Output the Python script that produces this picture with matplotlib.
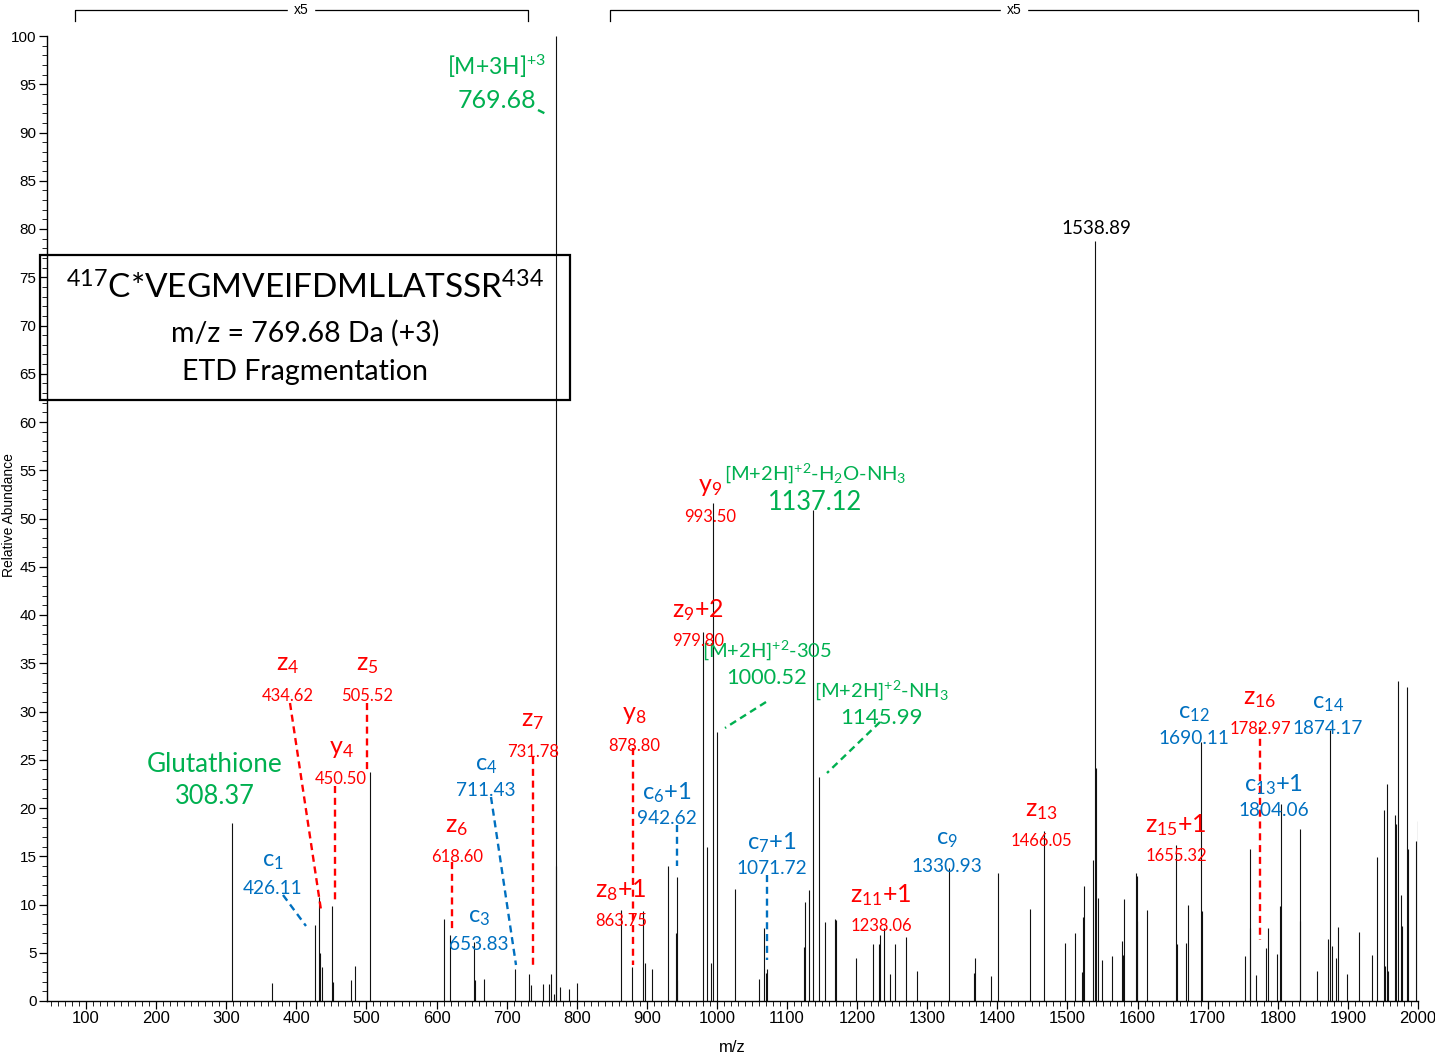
import matplotlib
matplotlib.use('Agg')
import matplotlib.pyplot as plt
import matplotlib.transforms as mtransforms
from matplotlib.lines import Line2D
from matplotlib.patches import Rectangle
from matplotlib.ticker import MultipleLocator

# ── Espectro (m/z, abundância relativa) ──────────────────────────────────────
mz = [308.37, 365.9, 425.9, 431.6, 434.0, 435.9, 450.7, 451.6, 478.3, 483.0,
      505.4, 610.8, 618.9, 653.9, 655.3, 667.7, 712.0, 732.0, 735.2, 751.4,
      760.5, 763.8, 768.1, 769.68, 770.9, 775.6, 788.5, 799.9, 863.7, 879.0,
      894.1, 897.5, 907.0, 929.8, 941.2, 942.6, 943.6, 979.8, 985.8, 991.5,
      994.0, 1000.5, 1026.4, 1060.0, 1067.1, 1070.4, 1071.8, 1124.2, 1125.2, 1130.9,
      1137.5, 1145.8, 1153.9, 1167.8, 1169.2, 1198.2, 1222.4, 1231.0, 1232.4, 1238.1,
      1246.7, 1253.8, 1270.1, 1285.3, 1331.5, 1366.6, 1368.1, 1390.9, 1401.5, 1446.6,
      1466.05, 1496.8, 1511.4, 1521.1, 1522.2, 1524.2, 1536.8, 1538.89, 1540.3, 1543.9,
      1549.9, 1562.8, 1578.2, 1579.9, 1581.3, 1597.2, 1598.5, 1599.4, 1613.6, 1655.3,
      1656.3, 1669.3, 1671.7, 1690.2, 1691.2, 1753.8, 1759.8, 1760.6, 1769.2, 1783.3,
      1786.3, 1799.2, 1803.0, 1804.06, 1831.1, 1832.0, 1856.5, 1872.0, 1874.17, 1877.2,
      1882.9, 1885.4, 1899.4, 1915.4, 1935.0, 1941.8, 1952.2, 1953.2, 1956.0, 1957.9,
      1967.9, 1969.0, 1971.9, 1975.7, 1976.9, 1984.7, 1985.7, 1997.6, 1999.6]
abundance = [18.4, 1.9, 7.9, 10.8, 5.0, 3.5, 9.8, 2.0, 2.2, 3.6,
             23.7, 8.5, 6.8, 6.1, 2.2, 2.3, 3.3, 2.8, 1.7, 1.8,
             1.8, 2.8, 0.7, 100.0, 14.0, 1.5, 1.2, 1.9, 9.4, 3.5,
             9.3, 3.9, 3.3, 14.0, 7.0, 12.8, 2.2, 38.2, 16.0, 3.9,
             51.6, 27.9, 11.6, 2.3, 7.6, 2.9, 3.3, 5.6, 10.3, 11.5,
             50.9, 23.2, 8.2, 8.5, 8.4, 4.5, 5.9, 5.9, 6.8, 7.6,
             2.8, 5.9, 6.6, 3.1, 13.8, 2.9, 4.5, 2.6, 13.3, 9.5,
             17.6, 6.0, 7.0, 3.0, 8.7, 11.9, 14.6, 78.8, 24.1, 10.7,
             4.2, 4.7, 6.2, 4.8, 10.6, 13.3, 8.3, 13.0, 9.4, 16.2,
             5.9, 6.0, 9.9, 26.8, 9.3, 4.7, 15.8, 7.6, 2.7, 5.5,
             7.6, 4.9, 9.8, 20.4, 17.8, 8.3, 3.1, 6.4, 28.1, 5.7,
             4.5, 7.7, 2.8, 7.2, 4.8, 14.9, 19.8, 3.6, 22.5, 3.1,
             19.3, 18.3, 33.2, 11.0, 7.8, 32.5, 15.8, 16.6, 18.7]

# faixas ampliadas x5
zoom_ranges = [(84, 730), (848, 2000)]
zoom_label = 'x5'

RED, BLUE, GREEN = '#FF0000', '#0070C0', '#00B050'
ANNOT_FONT = ['Lato', 'DejaVu Sans']
AXIS_FONT = ['Liberation Sans Narrow', 'Liberation Sans', 'DejaVu Sans']

plt.rcParams['mathtext.fontset'] = 'custom'
plt.rcParams['mathtext.rm'] = 'Lato'
plt.rcParams['mathtext.it'] = 'Lato:italic'
plt.rcParams['mathtext.bf'] = 'Lato:bold'
plt.rcParams['mathtext.default'] = 'regular'

W, H = 1435, 1063
fig = plt.figure(figsize=(W / 100, H / 100), dpi=100)
ax = fig.add_axes([47 / W, 1 - 1001 / H, (1418 - 47) / W, (1001 - 36) / H])

ax.vlines(mz, 0, abundance, color='#111111', lw=0.8)

ax.set_xlim(44.3, 2000)
ax.set_ylim(0, 100)
for s in ('top', 'right'):
    ax.spines[s].set_visible(False)
ax.spines['left'].set_linewidth(1.0)
ax.spines['bottom'].set_linewidth(1.0)
ax.xaxis.set_major_locator(MultipleLocator(100))
ax.xaxis.set_minor_locator(MultipleLocator(10))
ax.yaxis.set_major_locator(MultipleLocator(5))
ax.yaxis.set_minor_locator(MultipleLocator(1))
ax.tick_params(which='major', length=6, width=0.9, direction='out', pad=1.5)
ax.tick_params(which='minor', length=3.5, width=0.6, direction='out')
for lab in ax.get_xticklabels():
    lab.set_family(AXIS_FONT)
    lab.set_fontsize(12)
for lab in ax.get_yticklabels():
    lab.set_family(AXIS_FONT)
    lab.set_fontsize(11)
ax.set_xlabel('m/z', family=AXIS_FONT, fontsize=12, labelpad=10)
ax.set_ylabel('Relative Abundance', family=['Liberation Sans', 'DejaVu Sans'],
              fontsize=10)
ax.yaxis.set_label_coords(-0.0225, 0.504)

# colchetes x5 acima do gráfico
bt = mtransforms.blended_transform_factory(ax.transData, ax.transAxes)
for x0, x1 in zoom_ranges:
    ax.plot([x0, x0, x1, x1], [1.016, 1.027, 1.027, 1.016], color='black',
            lw=0.9, transform=bt, clip_on=False)
    ax.text((x0 + x1) / 2, 1.027, zoom_label, transform=bt, ha='center', va='center',
            fontsize=10, family=AXIS_FONT, backgroundcolor='white', clip_on=False)

# ── anotações em coordenadas de pixel da figura ──────────────────────────────
ref = mtransforms.Affine2D().scale(1 / W, -1 / H).translate(0, 1) + fig.transFigure


def txt(x, y, s, color, size):
    fig.text(x, y, s, transform=ref, ha='center', va='center', color=color,
             fontsize=size, family=ANNOT_FONT)


def dash(x0, y0, x1, y1, color):
    fig.add_artist(Line2D([x0, x1], [y0, y1], transform=ref, color=color,
                          lw=1.7, ls=(0, (3, 2))))


# caixa do peptídeo
fig.add_artist(Rectangle((40 / W, 1 - 400 / H), 530 / W, 145 / H, transform=fig.transFigure,
                         fill=False, ec='black', lw=1.6))
txt(305, 288, '$^{417}$C*VEGMVEIFDMLLATSSR$^{434}$', 'black', 24)
txt(305, 333, 'm/z = 769.68 Da (+3)', 'black', 20.5)
txt(305, 372, 'ETD Fragmentation', 'black', 20.5)

# verdes
txt(497, 66, '[M+3H]$^{+3}$', GREEN, 16.5)
txt(497, 100, '769.68', GREEN, 18)
dash(538, 110, 548, 115, GREEN)
txt(215, 764, 'Glutathione', GREEN, 18.8)
txt(215, 797, '308.37', GREEN, 18.4)
txt(815, 473, '[M+2H]$^{+2}$-H$_2$O-NH$_3$', GREEN, 14.5)
txt(815, 503, '1137.12', GREEN, 18.4)
txt(767, 650, '[M+2H]$^{+2}$-305', GREEN, 14.5)
txt(767, 678, '1000.52', GREEN, 15.7)
dash(766, 702, 725, 728, GREEN)
txt(881, 690, '[M+2H]$^{+2}$-NH$_3$', GREEN, 14.5)
txt(881, 718, '1145.99', GREEN, 16)
dash(880, 722, 827, 773, GREEN)

# vermelhos
red_labels = [
    (288, 665, 'z$_4$', '434.62'), (367, 665, 'z$_5$', '505.52'),
    (341, 748, 'y$_4$', '450.50'), (457, 826, 'z$_6$', '618.60'),
    (533, 721, 'z$_7$', '731.78'), (634, 715, 'y$_8$', '878.80'),
    (621, 890, 'z$_8$+1', '863.75'), (710, 486, 'y$_9$', '993.50'),
    (698, 610, 'z$_9$+2', '979.80'), (881, 895, 'z$_{11}$+1', '1238.06'),
    (1041, 810, 'z$_{13}$', '1466.05'), (1176, 825, 'z$_{15}$+1', '1655.32'),
    (1260, 698, 'z$_{16}$', '1782.97'),
]
for x, y, ion, val in red_labels:
    txt(x, y, ion, RED, 18)
    txt(x, y + 31, val, RED, 12)
dash(290, 703, 321, 910, RED)
dash(367, 703, 367, 770, RED)
dash(335, 786, 335, 903, RED)
dash(452, 862, 452, 930, RED)
dash(533, 757, 533, 968, RED)
dash(633, 748, 633, 965, RED)
dash(1260, 727, 1260, 940, RED)

# azuis
blue_labels = [
    (273, 862, 'c$_1$', '426.11'), (479, 918, 'c$_3$', '653.83'),
    (486, 765, 'c$_4$', '711.43'), (667, 793, 'c$_6$+1', '942.62'),
    (772, 843, 'c$_7$+1', '1071.72'), (947, 840, 'c$_9$', '1330.93'),
    (1194, 713, 'c$_{12}$', '1690.11'), (1274, 785, 'c$_{13}$+1', '1804.06'),
    (1328, 703, 'c$_{14}$', '1874.17'),
]
for x, y, ion, val in blue_labels:
    txt(x, y, ion, BLUE, 17)
    txt(x, y + 26, val, BLUE, 13.7)
dash(283, 895, 306, 926, BLUE)
dash(491, 797, 516, 965, BLUE)
dash(677, 825, 677, 866, BLUE)
dash(767, 875, 767, 960, BLUE)

txt(1096, 228, '1538.89', 'black', 13.5)

fig.savefig('out.png', dpi=100)
